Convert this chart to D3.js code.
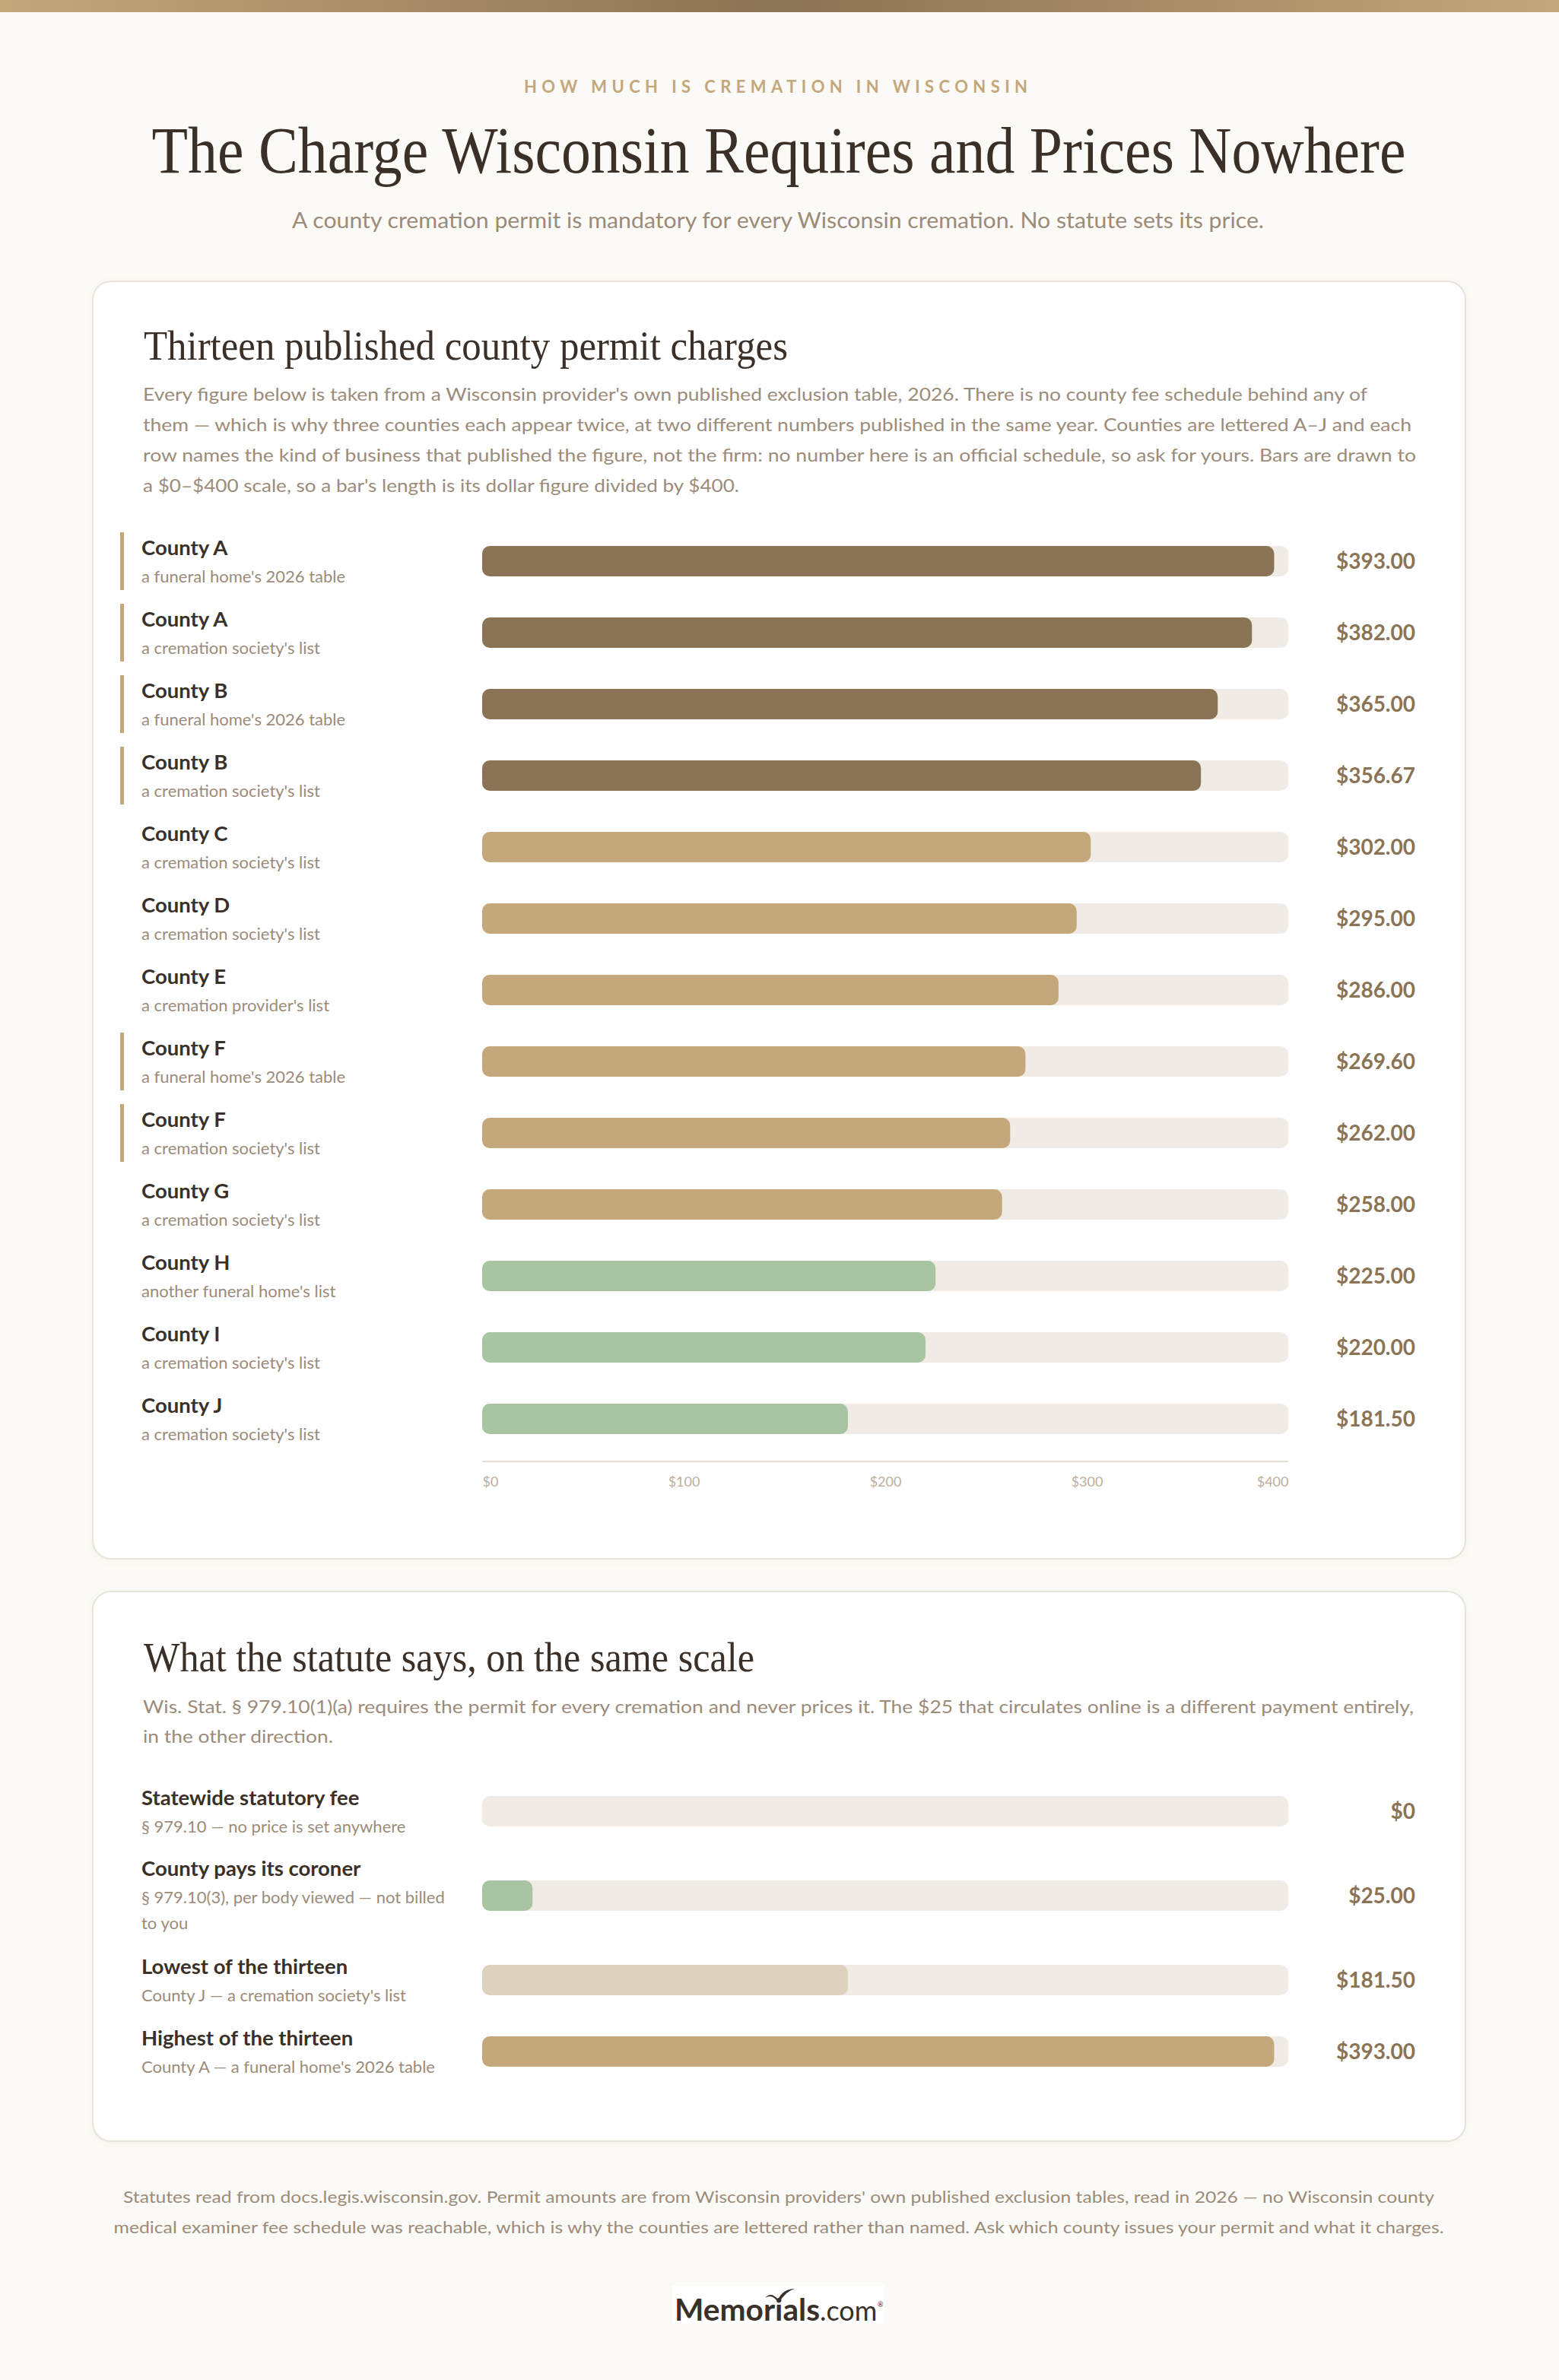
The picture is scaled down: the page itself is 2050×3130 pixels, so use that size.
<!DOCTYPE html>
<html><head><meta charset="utf-8">
<script src="https://cdn.jsdelivr.net/npm/d3@7"></script>
<style>
html,body{margin:0;padding:0;background:#fbfaf6;}
svg{display:block;}
</style></head>
<body>
<script>
// ---------- data ----------
const counties = ["County A","County A","County B","County B","County C","County D","County E","County F","County F","County G","County H","County I","County J"];
const sources = ["a funeral home's 2026 table","a cremation society's list","a funeral home's 2026 table","a cremation society's list","a cremation society's list","a cremation society's list","a cremation provider's list","a funeral home's 2026 table","a cremation society's list","a cremation society's list","another funeral home's list","a cremation society's list","a cremation society's list"];
const charges = [393, 382, 365, 356.67, 302, 295, 286, 269.6, 262, 258, 225, 220, 181.5];
const tiers = ["high","high","high","high","mid","mid","mid","mid","mid","mid","low","low","low"];
const repeated = [true,true,true,true,false,false,false,true,true,false,false,false,false];

const statuteLabels = ["Statewide statutory fee","County pays its coroner","Lowest of the thirteen","Highest of the thirteen"];
const statuteNotes = [["§ 979.10 — no price is set anywhere"],["§ 979.10(3), per body viewed — not billed","to you"],["County J — a cremation society's list"],["County A — a funeral home's 2026 table"]];
const statuteValues = [0, 25, 181.5, 393];
const statuteTones = ["none","low","pale","mid"];

const axisTicks = [0, 100, 200, 300, 400];

const kicker = "HOW MUCH IS CREMATION IN WISCONSIN";
const title = "The Charge Wisconsin Requires and Prices Nowhere";
const subtitle = "A county cremation permit is mandatory for every Wisconsin cremation. No statute sets its price.";
const heading1 = "Thirteen published county permit charges";
const para1 = ["Every figure below is taken from a Wisconsin provider's own published exclusion table, 2026. There is no county fee schedule behind any of",
"them — which is why three counties each appear twice, at two different numbers published in the same year. Counties are lettered A–J and each",
"row names the kind of business that published the figure, not the firm: no number here is an official schedule, so ask for yours. Bars are drawn to",
"a $0–$400 scale, so a bar's length is its dollar figure divided by $400."];
const heading2 = "What the statute says, on the same scale";
const para2 = ["Wis. Stat. § 979.10(1)(a) requires the permit for every cremation and never prices it. The $25 that circulates online is a different payment entirely,",
"in the other direction."];
const footer = ["Statutes read from docs.legis.wisconsin.gov. Permit amounts are from Wisconsin providers' own published exclusion tables, read in 2026 — no Wisconsin county",
"medical examiner fee schedule was reachable, which is why the counties are lettered rather than named. Ask which county issues your permit and what it charges."];

// ---------- styles ----------
const C = {
  bg:"#fbfaf6", card:"#ffffff", border:"#e9e3d9",
  ink:"#3b3027", muted:"#9c8b79", axisText:"#bcae9f", axisLine:"#e6dfd5",
  accent:"#c4a77b", value:"#8b7355", track:"#f0ebe5",
  high:"#8b7355", mid:"#c4a77b", low:"#a8c4a1", pale:"#ddd1c0"
};
const SANS = "Lato, 'Source Sans Pro', 'Noto Sans', sans-serif";
const SERIF = "'Liberation Serif', 'DejaVu Serif', serif";

const W = 2050, H = 3130;
const svg = d3.select("body").append("svg").attr("width", W).attr("height", H);
const defs = svg.append("defs");

// top band gradient
const g = defs.append("linearGradient").attr("id","band").attr("x1","0").attr("x2","1");
g.append("stop").attr("offset","0").attr("stop-color","#c4a77b");
g.append("stop").attr("offset","0.5").attr("stop-color","#8b7355");
g.append("stop").attr("offset","1").attr("stop-color","#c4a77b");
const sh = defs.append("filter").attr("id","shadow").attr("x","-5%").attr("y","-5%").attr("width","110%").attr("height","110%");
sh.append("feDropShadow").attr("dx",0).attr("dy",2).attr("stdDeviation",4).attr("flood-color","#8b7355").attr("flood-opacity",0.06);

svg.append("rect").attr("width",W).attr("height",H).attr("fill",C.bg);
svg.append("rect").attr("width",W).attr("height",16).attr("fill","url(#band)");

function txt(parent, s, x, y, o) {
  const t = parent.append("text").attr("x",x).attr("y",y).text(s)
    .attr("font-family", o.family || SANS).attr("font-size", o.size)
    .attr("font-weight", o.weight || 400).attr("fill", o.fill || C.ink)
    .attr("text-anchor", o.anchor || "start");
  if (o.ls) t.attr("letter-spacing", o.ls);
  if (o.len) t.attr("textLength", o.len).attr("lengthAdjust", o.adjust || "spacingAndGlyphs");
  return t;
}

// ---------- header ----------
txt(svg, kicker, 1022, 122, {size:22, weight:700, fill:C.accent, anchor:"middle", ls:4, len:666, adjust:"spacing"});
txt(svg, title, 1024, 227, {family:SERIF, size:86, fill:C.ink, anchor:"middle", len:1649});
txt(svg, subtitle, 1023, 300, {size:28, fill:C.muted, anchor:"middle", len:1278});

// ---------- cards ----------
const cardX = 122, cardW = 1805;
svg.append("rect").attr("x",cardX).attr("y",370).attr("width",cardW).attr("height",1680)
  .attr("rx",24).attr("fill",C.card).attr("stroke",C.border).attr("stroke-width",2).attr("filter","url(#shadow)");
svg.append("rect").attr("x",cardX).attr("y",2093).attr("width",cardW).attr("height",723)
  .attr("rx",24).attr("fill",C.card).attr("stroke",C.border).attr("stroke-width",2).attr("filter","url(#shadow)");

// shared x scale ($0–$400)
const x = d3.scaleLinear().domain([0, 400]).range([634, 1694]);
const money = v => v === 0 ? "$0" : d3.format("$.2f")(v);
const paraLens1 = [1610, 1668, 1674, 784];
const paraLens2 = [1671, 250];

// ---------- card 1 ----------
txt(svg, heading1, 189, 473, {family:SERIF, size:54, fill:C.ink, len:847});
para1.forEach((s,i) => txt(svg, s, 188, 527 + i*40, {size:24, fill:C.muted, len:paraLens1[i]}));

const rows = counties.map((c,i) => ({label:c, note:sources[i], value:charges[i], tier:tiers[i], rep:repeated[i], i}));
const y = d3.scaleBand().domain(rows.map(d=>d.i)).range([691, 691 + 94*rows.length]).padding(0);
const barH = 40;

const rowG = svg.append("g").selectAll("g").data(rows).join("g")
  .attr("transform", d => `translate(0,${y(d.i) + y.bandwidth()/2})`);
rowG.filter(d => d.rep).append("rect").attr("x",158).attr("y",-38).attr("width",5).attr("height",76).attr("fill",C.accent);
rowG.append("text").attr("x",186).attr("y",-8).text(d=>d.label)
  .attr("font-family",SANS).attr("font-size",27.5).attr("font-weight",700).attr("fill",C.ink);
rowG.append("text").attr("x",186).attr("y",28).text(d=>d.note)
  .attr("font-family",SANS).attr("font-size",22).attr("fill",C.muted);
rowG.append("rect").attr("x",x(0)).attr("y",-barH/2).attr("width",x(400)-x(0)).attr("height",barH).attr("rx",10).attr("fill",C.track);
rowG.append("rect").attr("x",x(0)).attr("y",-barH/2).attr("width",d=>x(d.value)-x(0)).attr("height",barH).attr("rx",10).attr("fill",d=>C[d.tier]);
rowG.append("text").attr("x",1861).attr("y",10).text(d=>money(d.value)).attr("text-anchor","end")
  .attr("font-family",SANS).attr("font-size",28).attr("font-weight",700).attr("fill",C.value);

// axis
const axisG = svg.append("g").attr("transform","translate(0,1922)")
  .call(d3.axisBottom(x).tickValues(axisTicks).tickFormat(d=>"$"+d).tickSize(0));
axisG.select(".domain").remove();
axisG.insert("line",":first-child").attr("x1",x(0)).attr("x2",x(400)).attr("y1",0).attr("y2",0)
  .attr("stroke",C.axisLine).attr("stroke-width",2);
axisG.selectAll(".tick text").attr("y",33).attr("dy",0)
  .attr("font-family",SANS).attr("font-size",18).attr("fill",C.axisText)
  .attr("text-anchor",(d,i)=> i===0 ? "start" : (i===axisTicks.length-1 ? "end" : "middle"));

// ---------- card 2 ----------
txt(svg, heading2, 189, 2198, {family:SERIF, size:54, fill:C.ink, len:803});
para2.forEach((s,i) => txt(svg, s, 188, 2253 + i*39, {size:24, fill:C.muted, len:paraLens2[i]}));

let cum = 2335;
const srows = statuteLabels.map((l,i) => {
  const lines = 1 + statuteNotes[i].length;
  const h = 94 + (lines-2)*34;
  const c = cum + h/2; cum += h;
  return {label:l, notes:statuteNotes[i], value:statuteValues[i], tone:statuteTones[i], c, lines};
});
const sG = svg.append("g").selectAll("g").data(srows).join("g")
  .attr("transform", d => `translate(0,${d.c})`);
sG.append("text").attr("x",186).attr("y",d=>-8-(d.lines-2)*18).text(d=>d.label)
  .attr("font-family",SANS).attr("font-size",27.5).attr("font-weight",700).attr("fill",C.ink);
sG.each(function(d){
  const gg = d3.select(this);
  d.notes.forEach((n,k)=> gg.append("text").attr("x",186).attr("y",28-(d.lines-2)*18+k*34).text(n)
    .attr("font-family",SANS).attr("font-size",22).attr("fill",C.muted));
});
sG.append("rect").attr("x",x(0)).attr("y",-barH/2).attr("width",x(400)-x(0)).attr("height",barH).attr("rx",10).attr("fill",C.track);
sG.filter(d=>d.value>0).append("rect").attr("x",x(0)).attr("y",-barH/2).attr("width",d=>x(d.value)-x(0)).attr("height",barH).attr("rx",10).attr("fill",d=>C[d.tone]);
sG.append("text").attr("x",1861).attr("y",10).text(d=>money(d.value)).attr("text-anchor","end")
  .attr("font-family",SANS).attr("font-size",28).attr("font-weight",700).attr("fill",C.value);

// ---------- footer ----------
const footLens = [1724, 1749];
footer.forEach((s,i)=> txt(svg, s, 1024, 2897 + i*40, {size:22, fill:C.muted, anchor:"middle", len:footLens[i]}));

// logo
const logo = svg.append("g");
logo.append("rect").attr("x",884).attr("y",3006).attr("width",279).attr("height",50).attr("fill","#ffffff");
const lt = logo.append("text").attr("x",887).attr("y",3052).attr("font-family",SANS).attr("fill","#3a302a");
lt.append("tspan").text("Memorials").attr("font-size",40).attr("font-weight",700).attr("textLength",191).attr("lengthAdjust","spacingAndGlyphs");
lt.append("tspan").text(".com").attr("font-size",36).attr("font-weight",400);
logo.append("text").attr("x",1154).attr("y",3034).text("®").attr("font-family",SANS).attr("font-size",9).attr("fill","#3a302a");
logo.append("path").attr("d","M1006,3022 Q1014,3013 1023,3024 Q1030,3010 1045,3010 Q1033,3013 1024,3029 Q1016,3016 1006,3022 Z").attr("fill","#3a302a");
</script>
</body></html>
